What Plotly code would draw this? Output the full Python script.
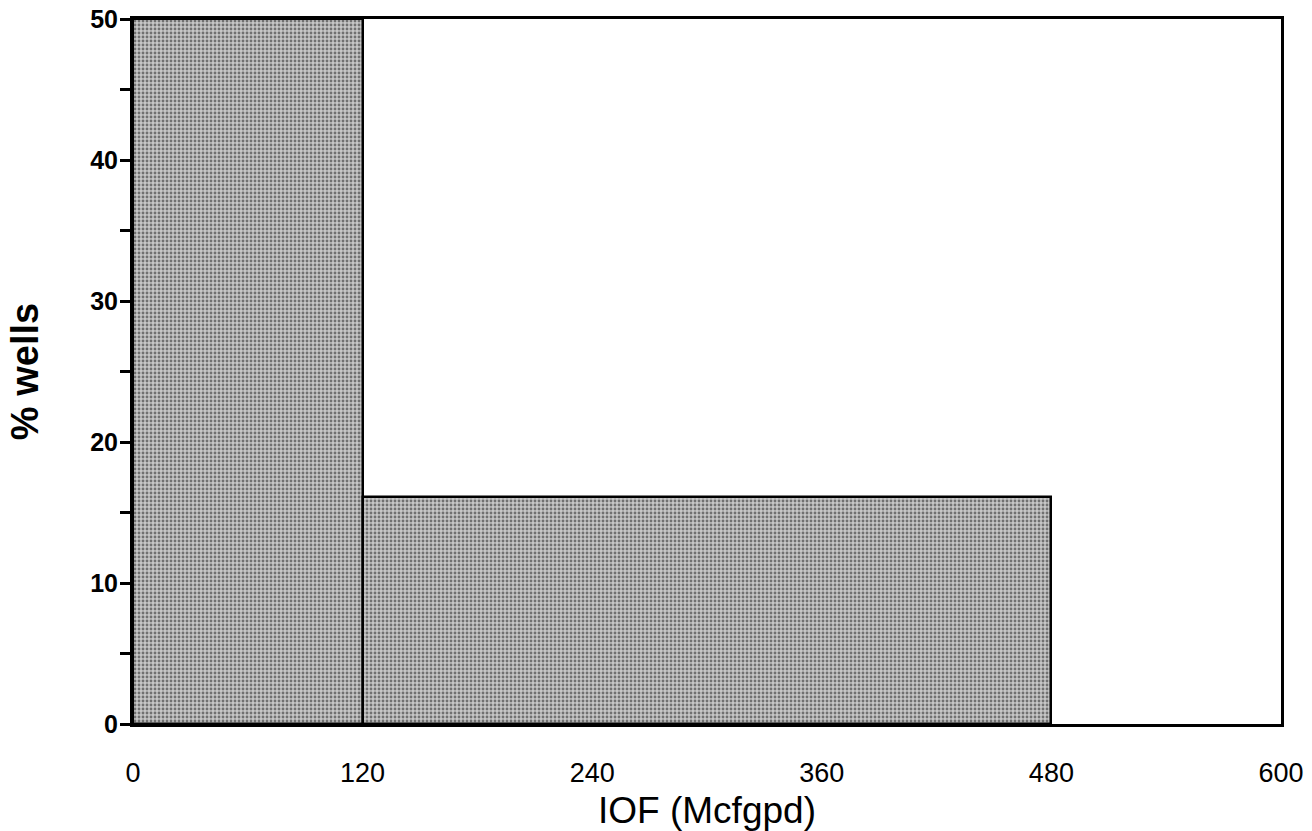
import plotly.graph_objects as go

# Histogram data
bin_edges = [0, 120, 480]
pct_wells = [50.0, 16.1]
x_tick_vals = [0, 120, 240, 360, 480, 600]
x_tick_text = ["0", "120", "240", "360", "480", "600"]
y_tick_vals = [0, 10, 20, 30, 40, 50]

centers = [(a + b) / 2 for a, b in zip(bin_edges[:-1], bin_edges[1:])]
widths = [b - a for a, b in zip(bin_edges[:-1], bin_edges[1:])]

FONT = "Liberation Sans, Arial, Helvetica, sans-serif"

fig = go.Figure()
fig.add_trace(go.Bar(
    x=centers, y=pct_wells, width=widths,
    marker=dict(
        color="#b0b0b0",
        line=dict(color="black", width=2.5),
        pattern=dict(shape=".", fgcolor="#1a1a1a", bgcolor="#c6c6c6", size=4, solidity=0.4),
    ),
    showlegend=False,
))

fig.update_layout(
    width=1312, height=831,
    paper_bgcolor="white", plot_bgcolor="white",
    margin=dict(l=133, r=31, t=19, b=107),
    bargap=0,
    font=dict(family=FONT, color="black"),
)
fig.update_xaxes(
    range=[0, 600], tickvals=x_tick_vals, ticktext=x_tick_text,
    showline=True, linecolor="black", linewidth=3, mirror=True,
    showgrid=False, zeroline=False, ticks="", ticklabelstandoff=23,
    automargin=False,
    tickfont=dict(size=27, family=FONT),
    title=dict(text="IOF (Mcfgpd)", font=dict(size=37, family=FONT), standoff=12),
)
fig.update_yaxes(
    range=[0, 50], tickvals=y_tick_vals,
    showline=True, linecolor="black", linewidth=3, mirror=True,
    showgrid=False, zeroline=False, automargin=False,
    ticks="outside", ticklen=10, tickwidth=3, tickcolor="black",
    ticklabeloverflow="allow", ticklabelstandoff=-3,
    minor=dict(dtick=5, ticks="outside", ticklen=10, tickwidth=3, tickcolor="black", showgrid=False),
    tickfont=dict(size=25, family=FONT, weight="bold"),
    title=dict(text="% wells", font=dict(size=38, family=FONT, weight="bold"), standoff=40),
)

fig.write_html(
    "out.html",
    config={"displayModeBar": False},
    post_script="document.body.style.margin='0';document.body.style.overflow='hidden';",
)
